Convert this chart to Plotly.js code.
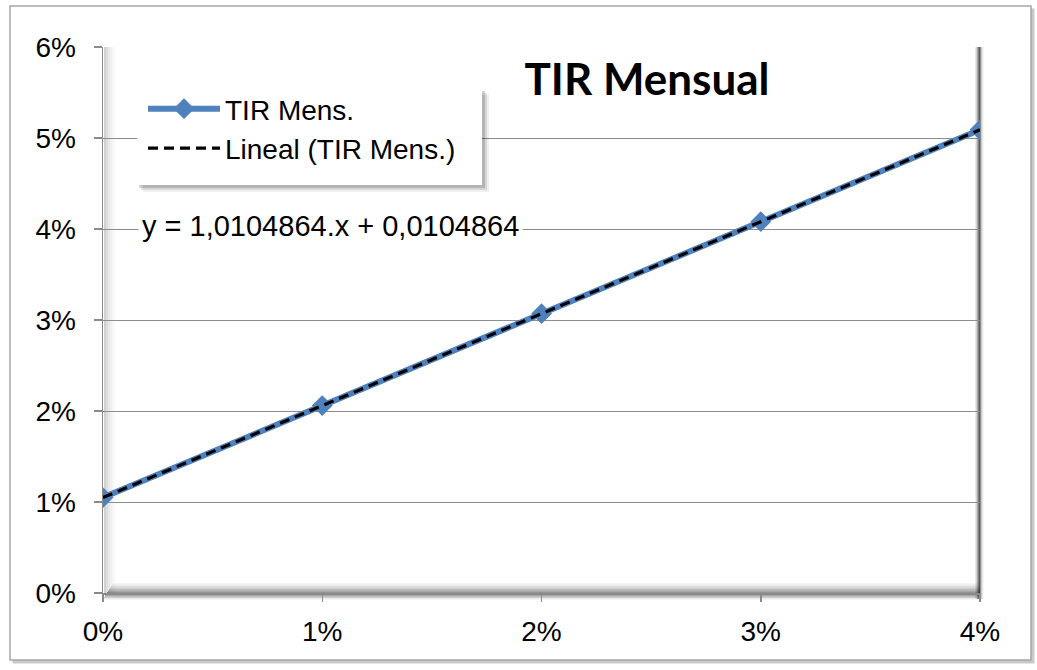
<!DOCTYPE html>
<html>
<head>
<meta charset="utf-8">
<script src="https://cdn.plot.ly/plotly-3.0.1.min.js"></script>
<style>
html,body{margin:0;padding:0;background:#fff;}
#chart{width:1037px;height:670px;}
</style>
</head>
<body>
<div id="chart"></div>
<script>
// ---- data ----
const tasaX = [0.00, 0.01, 0.02, 0.03, 0.04];
const tirMens = [0.0104864, 0.0205913, 0.0306962, 0.0408010, 0.0509059];
const trendX = [0.00, 0.04];
const trendY = [0.0104864, 0.0509059];
const serieName = "TIR Mens.";
const trendName = "Lineal (TIR Mens.)";
const chartTitle = "TIR Mensual";
const equationText = "y = 1,0104864.x + 0,0104864";
const xTicks = [0, 0.01, 0.02, 0.03, 0.04];
const xTickText = ["0%", "1%", "2%", "3%", "4%"];
const yTicks = [0, 0.01, 0.02, 0.03, 0.04, 0.05, 0.06];
const yTickText = ["0%", "1%", "2%", "3%", "4%", "5%", "6%"];

// ---- layout helpers (pixel -> paper) ----
const L = 103, R = 980, T = 47, B = 593;
const W = R - L, H = B - T;
const px = v => (v - L) / W;
const py = v => (B - v) / H;

const shapes = [];
function rect(x0, y0, x1, y1, fill, layer, line) {
  shapes.push({type: 'rect', xref: 'paper', yref: 'paper',
    x0: px(x0), x1: px(x1), y0: py(y1), y1: py(y0),
    fillcolor: fill, line: line || {width: 0}, layer: layer || 'below'});
}
// outer chart frame with shadow
rect(13, 9, 1035, 664, 'rgba(0,0,0,0.10)', 'below');
rect(12, 8, 1034, 663, 'rgba(0,0,0,0.12)', 'below');
rect(10, 6, 1031, 660, '#ffffff', 'below', {color: '#a6a6a6', width: 1.5});
// left wall shading
const wallA = [0.18, 0.13, 0.09, 0.06, 0.035, 0.015];
wallA.forEach((a, i) => rect(L + 1 + i * 2, T, L + 3 + i * 2, B, 'rgba(0,0,0,' + a + ')', 'below'));
// floor shading
const floorA = [0.04, 0.08, 0.13, 0.19, 0.27, 0.35, 0.42, 0.45, 0.35, 0.2, 0.08];
floorA.forEach((a, i) => rect(L + 10 - i, 583 + i * 1.5, R, 584.5 + i * 1.5, 'rgba(0,0,0,' + a + ')', 'below'));
// right wall dark edge
const rightA = [0.08, 0.2, 0.45, 0.75, 0.45, 0.2, 0.08];
rightA.forEach((a, i) => rect(975 + i * 1.2, T, 976.2 + i * 1.2, B + 6, 'rgba(0,0,0,' + a + ')', 'below'));
// legend box with soft shadow
rect(143, 95, 489, 192, 'rgba(0,0,0,0.06)', 'above');
rect(141, 93, 487, 190, 'rgba(0,0,0,0.10)', 'above');
rect(139, 91, 485, 188, 'rgba(0,0,0,0.16)', 'above');
rect(137, 89, 482, 185, '#ffffff', 'above');

const data = [
  {x: tasaX, y: tirMens, name: serieName, type: 'scatter', mode: 'lines+markers',
   legendgroup: 'a',
   line: {color: '#4F81BD', width: 6},
   marker: {symbol: 'diamond', size: 16, color: '#4F81BD'}},
  {x: trendX, y: trendY, name: trendName, type: 'scatter', mode: 'lines',
   legendgroup: 'b',
   line: {color: '#000000', width: 3.2, dash: '10px,6px'}}
];

const tickFont = {family: 'Liberation Sans, Arial, sans-serif', size: 28, color: '#000'};

const layout = {
  width: 1037, height: 670,
  margin: {l: L, r: 1037 - R, t: T, b: 670 - B},
  paper_bgcolor: '#ffffff', plot_bgcolor: 'rgba(0,0,0,0)',
  showlegend: true,
  legend: {x: px(143), y: py(84), xanchor: 'left', yanchor: 'top',
    bgcolor: 'rgba(0,0,0,0)', borderwidth: 0, tracegroupgap: 0, itemwidth: 72,
    font: {family: 'Liberation Sans, Arial, sans-serif', size: 28, color: '#000'}},
  title: {text: '<b>' + chartTitle + '</b>', xref: 'container', yref: 'container',
    x: 647 / 1037, xanchor: 'center', y: 1 - 80 / 670, yanchor: 'middle',
    font: {family: 'Lato, sans-serif', size: 44, color: '#000'}},
  xaxis: {range: [0, 0.04], tickvals: xTicks, ticktext: xTickText,
    showgrid: false, zeroline: false, showline: true, linecolor: '#8a8a8a', linewidth: 1.5,
    ticks: 'outside', ticklen: 7, tickcolor: '#8a8a8a', tickwidth: 1.5,
    ticklabelstandoff: 6, tickfont: tickFont, fixedrange: true},
  yaxis: {range: [0, 0.06], tickvals: yTicks, ticktext: yTickText,
    showgrid: true, gridcolor: '#8c8c8c', gridwidth: 1,
    zeroline: false, showline: true, linecolor: '#8a8a8a', linewidth: 1.5,
    ticks: 'outside', ticklen: 8, tickcolor: '#8a8a8a', tickwidth: 1.5,
    ticklabelstandoff: 12, tickfont: tickFont, fixedrange: true},
  shapes: shapes,
  annotations: [{text: equationText, xref: 'paper', yref: 'paper',
    x: px(138), y: py(226), xanchor: 'left', yanchor: 'middle', showarrow: false,
    bgcolor: '#ffffff', borderpad: 3,
    font: {family: 'Liberation Sans, Arial, sans-serif', size: 29, color: '#000'}}]
};

Plotly.newPlot('chart', data, layout, {displayModeBar: false, staticPlot: true});
</script>
</body>
</html>
